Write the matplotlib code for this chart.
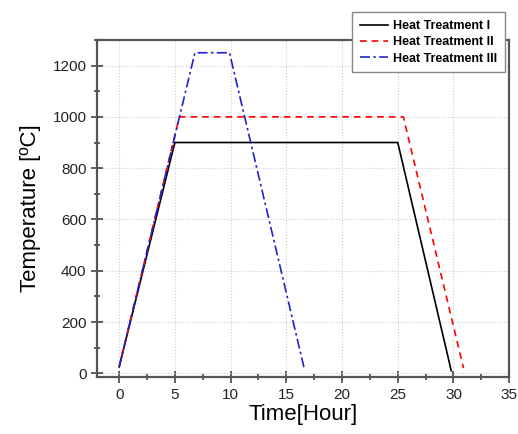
import matplotlib
matplotlib.use('Agg')
import matplotlib.pyplot as plt
from matplotlib.ticker import MultipleLocator

plt.rcParams['font.family'] = ['Liberation Sans', 'DejaVu Sans']

# heat treatment schedules (time in hours, temperature in C)
t1 = [0, 5, 25, 29.8]
T1 = [25, 900, 900, 10]
t2 = [0, 5.4, 25.5, 30.9]
T2 = [25, 1000, 1000, 20]
t3 = [0, 6.8, 9.9, 16.6]
T3 = [25, 1250, 1250, 20]
labels = ['Heat Treatment I', 'Heat Treatment II', 'Heat Treatment III']

fig = plt.figure(figsize=(5.18, 4.34), dpi=100)
ax = fig.add_axes([0.187, 0.131, 0.796, 0.777])

ax.plot(t1, T1, color='black', lw=1.2, ls='-', label=labels[0])
ax.plot(t2, T2, color='red', lw=1.2, ls=(0, (4, 3)), label=labels[1])
ax.plot(t3, T3, color='#2020d0', lw=1.2, ls=(0, (6, 2, 1.5, 2)), label=labels[2])

ax.set_xlim(-2, 35)
ax.set_ylim(-15, 1300)
ax.xaxis.set_major_locator(MultipleLocator(5))
ax.xaxis.set_minor_locator(MultipleLocator(2.5))
ax.yaxis.set_major_locator(MultipleLocator(200))
ax.yaxis.set_minor_locator(MultipleLocator(100))
ax.grid(True, which='major', ls=':', color='#cccccc', lw=0.8)

for s in ax.spines.values():
    s.set_color('#555555')
    s.set_linewidth(1.6)
ax.tick_params(which='major', direction='inout', length=8, width=1.2, color='#444444', labelsize=11, labelcolor='#222222')
ax.tick_params(which='minor', direction='inout', length=5, width=1.2, color='#444444')
ax.tick_params(top=False, right=False)

ax.set_xlabel('Time[Hour]', fontsize=16, labelpad=2)
ax.set_ylabel('Temperature [\u00baC]', fontsize=16, labelpad=8)

leg = ax.legend(loc='upper right', bbox_to_anchor=(1.005, 1.1),
                prop={'weight': 'bold', 'size': 9}, frameon=True, fancybox=False,
                edgecolor='#888888', handlelength=2.3, handletextpad=0.4,
                borderpad=0.6, labelspacing=0.35, framealpha=1)
leg.get_frame().set_linewidth(1.0)

fig.savefig('out.png', dpi=100)
